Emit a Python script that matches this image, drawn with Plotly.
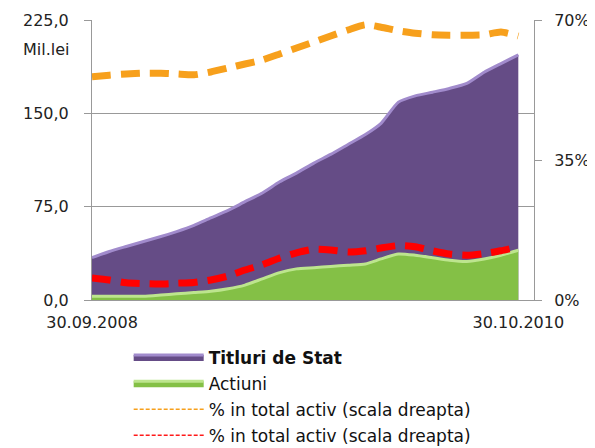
import pandas as pd
import plotly.graph_objects as go

# Monthly observations, 30.09.2008 .. 30.10.2010
dates = pd.date_range("2008-09-30", periods=26, freq="ME")

# Mil. lei (left scale)
titluri_stat = [34, 39, 43, 47, 51, 55, 60, 66, 72, 79, 86, 95, 102,
                110, 117, 125, 133, 142, 159, 164, 167, 170, 174, 183, 190, 197]
actiuni = [3, 3, 3, 3, 4, 5, 6, 7, 9, 12, 17, 22, 25,
           26, 27, 28, 29, 33, 37, 36, 34, 32, 31, 33, 36, 40]

# share of total assets (right scale)
pct_titluri = [0.558, 0.562, 0.565, 0.567, 0.567, 0.565, 0.563, 0.570, 0.580,
               0.590, 0.600, 0.615, 0.630, 0.645, 0.660, 0.675, 0.688, 0.682,
               0.673, 0.667, 0.663, 0.662, 0.662, 0.663, 0.670, 0.660]
pct_actiuni = [0.055, 0.050, 0.043, 0.041, 0.040, 0.042, 0.044, 0.050, 0.060,
               0.075, 0.088, 0.105, 0.118, 0.127, 0.125, 0.120, 0.123, 0.130,
               0.136, 0.133, 0.123, 0.115, 0.112, 0.116, 0.123, 0.133]

x_ticks = [dates[0], dates[-1]]
x_ticktext = ["30.09.2008", "30.10.2010"]

FONT = "DejaVu Sans"
PCT_NAME = "% in total activ (scala dreapta)"

fig = go.Figure()

# areas (not stacked, green drawn in front)
fig.add_trace(
    go.Scatter(
        x=dates, y=titluri_stat, name="<b>Titluri de Stat</b>",
        mode="lines", fill="tozeroy", legendgroup="a",
        line=dict(color="#a18bcc", width=3, shape="spline", smoothing=0.6),
        fillcolor="#654c86",
    )
)
fig.add_trace(
    go.Scatter(
        x=dates, y=actiuni, name="Actiuni",
        mode="lines", fill="tozeroy", legendgroup="b",
        line=dict(color="#bde58e", width=3, shape="spline", smoothing=0.6),
        fillcolor="#84c046",
    )
)

# percentage lines, thick in the plot
fig.add_trace(
    go.Scatter(
        x=dates, y=pct_titluri, name=PCT_NAME, showlegend=False,
        mode="lines", yaxis="y2", legendgroup="c",
        line=dict(color="#f7a01c", width=7, dash="19px,10px", shape="spline", smoothing=0.6),
    )
)
fig.add_trace(
    go.Scatter(
        x=dates, y=pct_actiuni, name=PCT_NAME, showlegend=False,
        mode="lines", yaxis="y2", legendgroup="d",
        line=dict(color="#ff0000", width=7, dash="19px,10px", shape="spline", smoothing=0.6),
    )
)

# thin dashed keys for the legend only
for color, group in [("#f7a01c", "c"), ("#ff1a1a", "d")]:
    fig.add_trace(
        go.Scatter(
            x=[None], y=[None], name=PCT_NAME, mode="lines", yaxis="y2",
            legendgroup=group, hoverinfo="skip",
            line=dict(color=color, width=1.5, dash="4px,2px"),
        )
    )

# page body adds an 8px offset, so the figure is 8px smaller than the window
fig.update_layout(
    width=587,
    height=440,
    margin=dict(l=84, r=61, t=12, b=148, autoexpand=False),
    paper_bgcolor="white",
    plot_bgcolor="white",
    separators=",.",
    font=dict(family=FONT, size=16, color="#222222"),
    showlegend=True,
    legend=dict(
        x=0.083, y=-0.141, xanchor="left", yanchor="top",
        font=dict(size=17, color="#111111"),
        itemwidth=70,
        traceorder="grouped",
        tracegroupgap=1,
        bgcolor="rgba(0,0,0,0)",
    ),
    xaxis=dict(
        range=[dates[0], pd.Timestamp("2010-11-28")],
        tickvals=x_ticks, ticktext=x_ticktext,
        showgrid=False, showline=True, linecolor="#999999", linewidth=1,
        ticks="", zeroline=False, ticklabelstandoff=8,
    ),
    yaxis=dict(
        range=[0, 225], tickvals=[0, 75, 150, 225], tickformat=".1f",
        showgrid=True, gridcolor="#999999", gridwidth=1,
        showline=True, linecolor="#999999", linewidth=1,
        ticks="outside", ticklen=7, tickcolor="#999999",
        zeroline=False, ticklabelstandoff=12,
    ),
    yaxis2=dict(
        range=[0, 0.70], tickvals=[0, 0.35, 0.70], tickformat=".0%",
        overlaying="y", side="right", showgrid=False,
        showline=True, linecolor="#999999", linewidth=1,
        ticks="outside", ticklen=7, tickcolor="#999999",
        zeroline=False, ticklabelstandoff=9,
    ),
    annotations=[
        dict(
            text="Mil.lei", xref="paper", yref="paper",
            x=-0.045, y=0.893, xanchor="right", yanchor="middle",
            showarrow=False, font=dict(size=16, color="#222222"),
        )
    ],
)

fig.write_html("out.html")
